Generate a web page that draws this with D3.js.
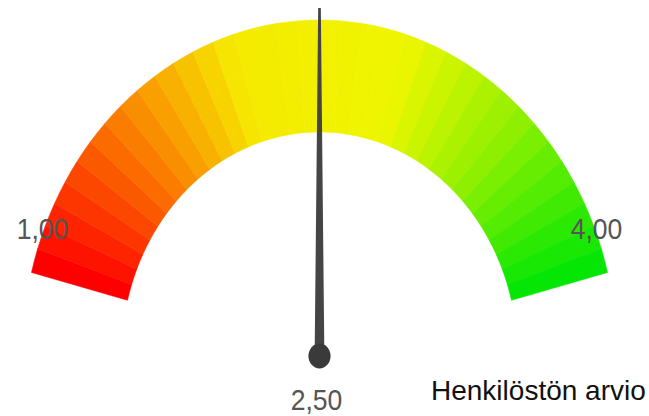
<!DOCTYPE html>
<html>
<head>
<meta charset="utf-8">
<script src="https://cdn.jsdelivr.net/npm/d3@7"></script>
<style>
  body { margin: 0; background: #fff; }
  svg { display: block; }
</style>
</head>
<body>
<div id="gauge"></div>
<script>
// gauge data
var scaleMin = 1, scaleMax = 4;
var endLabels = [1, 4];
var needleValue = 2.5;
var title = "Henkilöstön arvio";
var segmentCount = 36;

var width = 649, height = 416;
var cx = 319.5, cy = 356,
    outerR = 336, innerR = 224,
    squeeze = 0.885,           // the gauge is drawn a bit narrower than tall
    halfSpan = 75.6 * Math.PI / 180;

var fi = d3.formatLocale({decimal: ",", thousands: " ", grouping: [3], currency: ["", "€"]});
var fmt = fi.format(".2f");

var svg = d3.select("#gauge")
  .append("svg")
    .attr("width", width)
    .attr("height", height);

var angle = d3.scaleLinear()
  .domain([scaleMin, scaleMax])
  .range([-halfSpan, halfSpan]);

// red -> wide yellow middle -> green
var color = d3.scaleLinear()
  .domain([0, 0.2, 0.38, 0.62, 0.8, 1])
  .range(["#ff0000", "#fa7d00", "#f6ea00", "#eef600", "#8ef000", "#05e605"])
  .interpolate(d3.interpolateRgb);

var step = (scaleMax - scaleMin) / segmentCount;
var segments = d3.range(segmentCount).map(function(i) {
  return {i: i, from: scaleMin + i * step, to: scaleMin + (i + 1) * step};
});

var g = svg.append("g")
  .attr("transform", "translate(" + cx + "," + cy + ") scale(" + squeeze + ",1)");

var arc = d3.arc()
  .innerRadius(innerR)
  .outerRadius(outerR)
  .startAngle(function(d) { return angle(d.from); })
  .endAngle(function(d) { return angle(d.to); });

g.selectAll("path.seg")
  .data(segments)
  .enter()
  .append("path")
    .attr("class", "seg")
    .attr("d", arc)
    .attr("fill", function(d) { return color(d.i / (segmentCount - 1)); })
    .attr("stroke", function(d) { return color(d.i / (segmentCount - 1)); })
    .attr("stroke-width", 0.6);

// end labels
svg.selectAll("text.end")
  .data(endLabels)
  .enter()
  .append("text")
    .attr("class", "end")
    .attr("transform", function(d) {
      var a = angle(d);
      var x = cx + squeeze * outerR * Math.sin(a) - Math.sign(a) * 11;
      var y = cy - outerR * Math.cos(a) - 33;
      return "translate(" + x + "," + y + ") scale(" + squeeze + ",1)";
    })
    .attr("text-anchor", "middle")
    .attr("font-family", "Liberation Sans, Arial, sans-serif")
    .attr("font-size", 30)
    .attr("fill", "#555")
    .text(function(d) { return fmt(d); });

// needle
var tipLen = 348, baseW = 5.5, tipW = 1.5;
var needle = g.append("g")
  .attr("transform", "rotate(" + (angle(needleValue) * 180 / Math.PI) + ")");

needle.append("path")
  .attr("d", d3.line()([[-baseW, 0], [-tipW, -tipLen], [tipW, -tipLen], [baseW, 0]]) + "Z")
  .attr("fill", "#454545");

needle.append("circle")
  .attr("cx", 0)
  .attr("cy", 0)
  .attr("r", 12.5)
  .attr("fill", "#3a3a3a");

// value label
svg.append("text")
  .attr("transform", "translate(" + (cx - 3) + "," + (cy + 54) + ") scale(" + squeeze + ",1)")
  .attr("text-anchor", "middle")
  .attr("font-family", "Liberation Sans, Arial, sans-serif")
  .attr("font-size", 30)
  .attr("fill", "#555")
  .text(fmt(needleValue));

svg.append("text")
  .attr("x", 431)
  .attr("y", 400)
  .attr("font-family", "Liberation Sans, Arial, sans-serif")
  .attr("font-size", 28)
  .attr("fill", "#111")
  .text(title);
</script>
</body>
</html>
